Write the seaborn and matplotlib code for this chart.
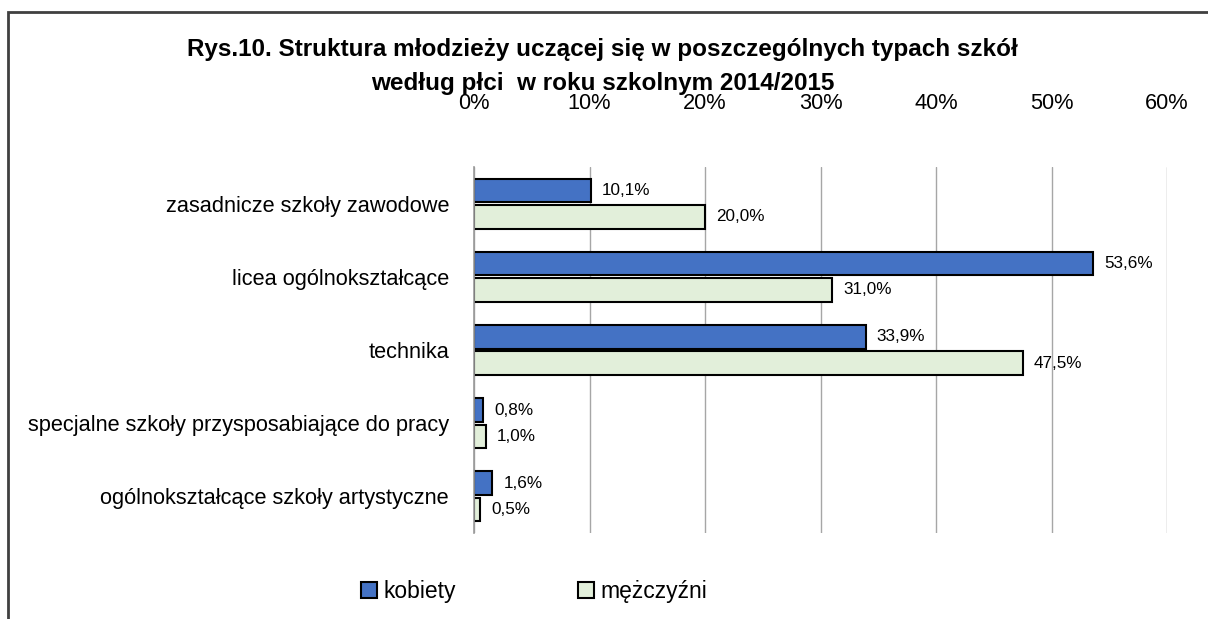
import seaborn as sns
import matplotlib.pyplot as plt
import pandas as pd
from matplotlib.patches import Rectangle

# data (percent)
categories = ['zasadnicze szkoły zawodowe', 'licea ogólnokształcące', 'technika',
              'specjalne szkoły przysposabiające do pracy', 'ogólnokształcące szkoły artystyczne']
kobiety = [10.1, 53.6, 33.9, 0.8, 1.6]
mezczyzni = [20.0, 31.0, 47.5, 1.0, 0.5]
series = ['kobiety', 'mężczyźni']
colors = ['#4472C4', '#E2EFDA']
x_ticks = [0, 10, 20, 30, 40, 50, 60]

df = pd.DataFrame({
    'kategoria': categories * 2,
    'wartosc': kobiety + mezczyzni,
    'plec': [series[0]] * len(categories) + [series[1]] * len(categories),
})

sns.set_style('white')
plt.rcParams['font.family'] = ['Liberation Sans', 'DejaVu Sans']
plt.rcParams['text.color'] = 'black'
plt.rcParams['xtick.color'] = 'black'
plt.rcParams['ytick.color'] = 'black'

fig = plt.figure(figsize=(12.08, 6.19), dpi=100)
ax = fig.add_axes([0.3924, 0.1389, 0.5737, 0.5913])

sns.barplot(data=df, y='kategoria', x='wartosc', hue='plec', orient='h',
            palette=colors, saturation=1, edgecolor='black', linewidth=1.5,
            width=0.72, gap=0.1, ax=ax, legend=True)

for cont in ax.containers:
    ax.bar_label(cont, fmt=lambda v: f'{v:.1f}%'.replace('.', ','),
                 padding=8, fontsize=12.3, color='black')

ax.set_xlim(0, 60)
ax.set_xticks(x_ticks)
ax.set_xticklabels([f'{t}%' for t in x_ticks])
ax.xaxis.tick_top()
ax.tick_params(axis='x', length=0, pad=38, labelsize=15.7)
ax.tick_params(axis='y', which='major', length=0, pad=18, labelsize=15.7)
ax.set_yticks([i - 0.5 for i in range(len(categories) + 1)], minor=True)
ax.tick_params(axis='y', which='minor', length=5, color='#999999', width=1.2)
ax.set_xlabel('')
ax.set_ylabel('')
ax.grid(axis='x', color='#a6a6a6', linewidth=1)
ax.set_axisbelow(True)
for s in ['top', 'right', 'bottom']:
    ax.spines[s].set_visible(False)
ax.spines['left'].set_color('#999999')
ax.spines['left'].set_linewidth(1.2)

handles, labels = ax.get_legend_handles_labels()
ax.get_legend().remove()
fig.legend(handles, labels, loc='center', bbox_to_anchor=(0.442, 0.044), ncol=2,
           frameon=False, fontsize=16.5, handlelength=0.7, handleheight=0.7,
           handletextpad=0.3, columnspacing=5.3)

fig.text(0.499, 0.8926, 'Rys.10. Struktura młodzieży uczącej się w poszczególnych typach szkół\n'
         'według płci  w roku szkolnym 2014/2015',
         ha='center', va='center', fontsize=17.5, fontweight='bold', linespacing=1.6)

fig.patches.append(Rectangle((8 / 1208, -0.1), 1.2, 1.1 - 12 / 619, transform=fig.transFigure,
                             fill=False, edgecolor='#404040', linewidth=2))

fig.savefig('out.png', dpi=100)
